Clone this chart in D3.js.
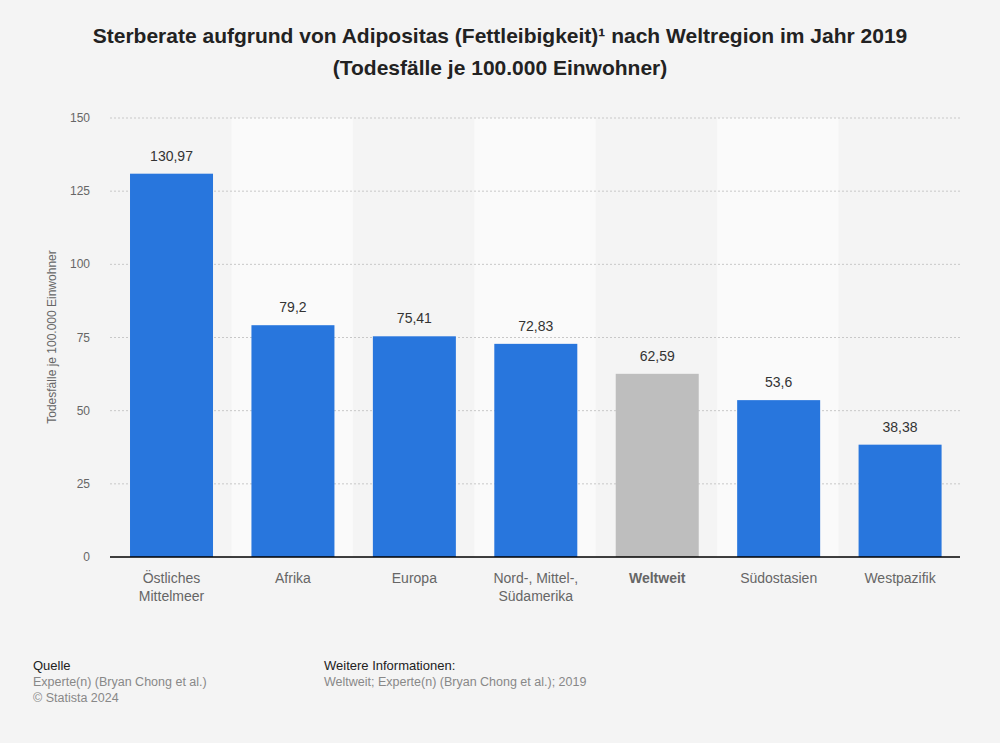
<!DOCTYPE html>
<html><head><meta charset="utf-8">
<script src="https://cdn.jsdelivr.net/npm/d3@7"></script>
<style>body{margin:0;background:#f4f4f4;font-family:"Liberation Sans",Arial,sans-serif;}</style>
</head><body><svg id="c" width="1000" height="743"></svg>
<script>
const categories = ["Östliches Mittelmeer","Afrika","Europa","Nord-, Mittel-, Südamerika","Weltweit","Südostasien","Westpazifik"];
const labelLines = [["Östliches","Mittelmeer"],["Afrika"],["Europa"],["Nord-, Mittel-,","Südamerika"],["Weltweit"],["Südostasien"],["Westpazifik"]];
const values = [130.97,79.2,75.41,72.83,62.59,53.6,38.38];
const valueLabels = ["130,97","79,2","75,41","72,83","62,59","53,6","38,38"];
const yTicks = [0,25,50,75,100,125,150];
const highlight = "Weltweit";

const svg = d3.select("#c");
svg.append("rect").attr("width",1000).attr("height",743).attr("fill","#f4f4f4");
const L=110,R=960,T=118,B=557;
const x = d3.scaleBand().domain(categories).range([L,R]).paddingInner(0).paddingOuter(0);
const y = d3.scaleLinear().domain([0,150]).range([B,T]);

// alternating bands
svg.selectAll("rect.band").data(categories.filter((d,i)=>i%2===1)).enter().append("rect")
  .attr("x",d=>x(d)).attr("y",T).attr("width",x.bandwidth()).attr("height",B-T).attr("fill","#fafafa");

// grid
svg.selectAll("line.grid").data(yTicks.filter(t=>t>0)).enter().append("line")
  .attr("x1",L).attr("x2",R).attr("y1",d=>y(d)).attr("y2",d=>y(d))
  .attr("stroke","#c8c8c8").attr("stroke-dasharray","2,2").attr("stroke-width",1);

// y tick labels
svg.selectAll("text.yt").data(yTicks).enter().append("text")
  .attr("x",90).attr("y",d=>y(d)+4).attr("text-anchor","end")
  .attr("font-size",12).attr("fill","#666").text(d=>d);

svg.append("text").attr("transform","translate(56,337) rotate(-90)").attr("text-anchor","middle")
  .attr("font-size",12).attr("fill","#666").text("Todesfälle je 100.000 Einwohner");

const bw = 83;
const off = (x.bandwidth()-bw)/2+0.8;
svg.selectAll("rect.bar").data(values).enter().append("rect")
  .attr("x",(d,i)=>x(categories[i])+off).attr("y",d=>y(d)).attr("width",bw).attr("height",d=>B-y(d))
  .attr("fill",(d,i)=>categories[i]===highlight?"#bebebe":"#2876dd");

svg.selectAll("text.val").data(values).enter().append("text")
  .attr("x",(d,i)=>x(categories[i])+off+bw/2).attr("y",d=>y(d)-13).attr("text-anchor","middle")
  .attr("font-size",14).attr("fill","#333").text((d,i)=>valueLabels[i]);

svg.append("line").attr("x1",L).attr("x2",R).attr("y1",B).attr("y2",B).attr("stroke","#000").attr("stroke-width",1.5);

// x labels
categories.forEach((c,i)=>{
  const t = svg.append("text").attr("x",x(c)+off+bw/2).attr("y",583).attr("text-anchor","middle")
    .attr("font-size",14).attr("fill","#666").attr("font-weight",c===highlight?"bold":"normal");
  labelLines[i].forEach((ln,j)=>t.append("tspan").attr("x",x(c)+off+bw/2).attr("dy",j?18:0).text(ln));
});

// title
svg.append("text").attr("x",500).attr("y",43).attr("text-anchor","middle").attr("font-size",21).attr("font-weight","bold").attr("fill","#222")
  .text("Sterberate aufgrund von Adipositas (Fettleibigkeit)¹ nach Weltregion im Jahr 2019");
svg.append("text").attr("x",500).attr("y",75).attr("text-anchor","middle").attr("font-size",21).attr("font-weight","bold").attr("fill","#222")
  .text("(Todesfälle je 100.000 Einwohner)");

// footer
const f = svg.append("g").attr("font-size",12.5);
f.append("text").attr("x",33).attr("y",670).attr("fill","#222").attr("font-size",13).text("Quelle");
f.append("text").attr("x",33).attr("y",686).attr("fill","#888").text("Experte(n) (Bryan Chong et al.)");
f.append("text").attr("x",33).attr("y",702).attr("fill","#888").text("© Statista 2024");
f.append("text").attr("x",324).attr("y",670).attr("fill","#222").attr("font-size",13).text("Weitere Informationen:");
f.append("text").attr("x",324).attr("y",686).attr("fill","#888").text("Weltweit; Experte(n) (Bryan Chong et al.); 2019");
</script></body></html>
